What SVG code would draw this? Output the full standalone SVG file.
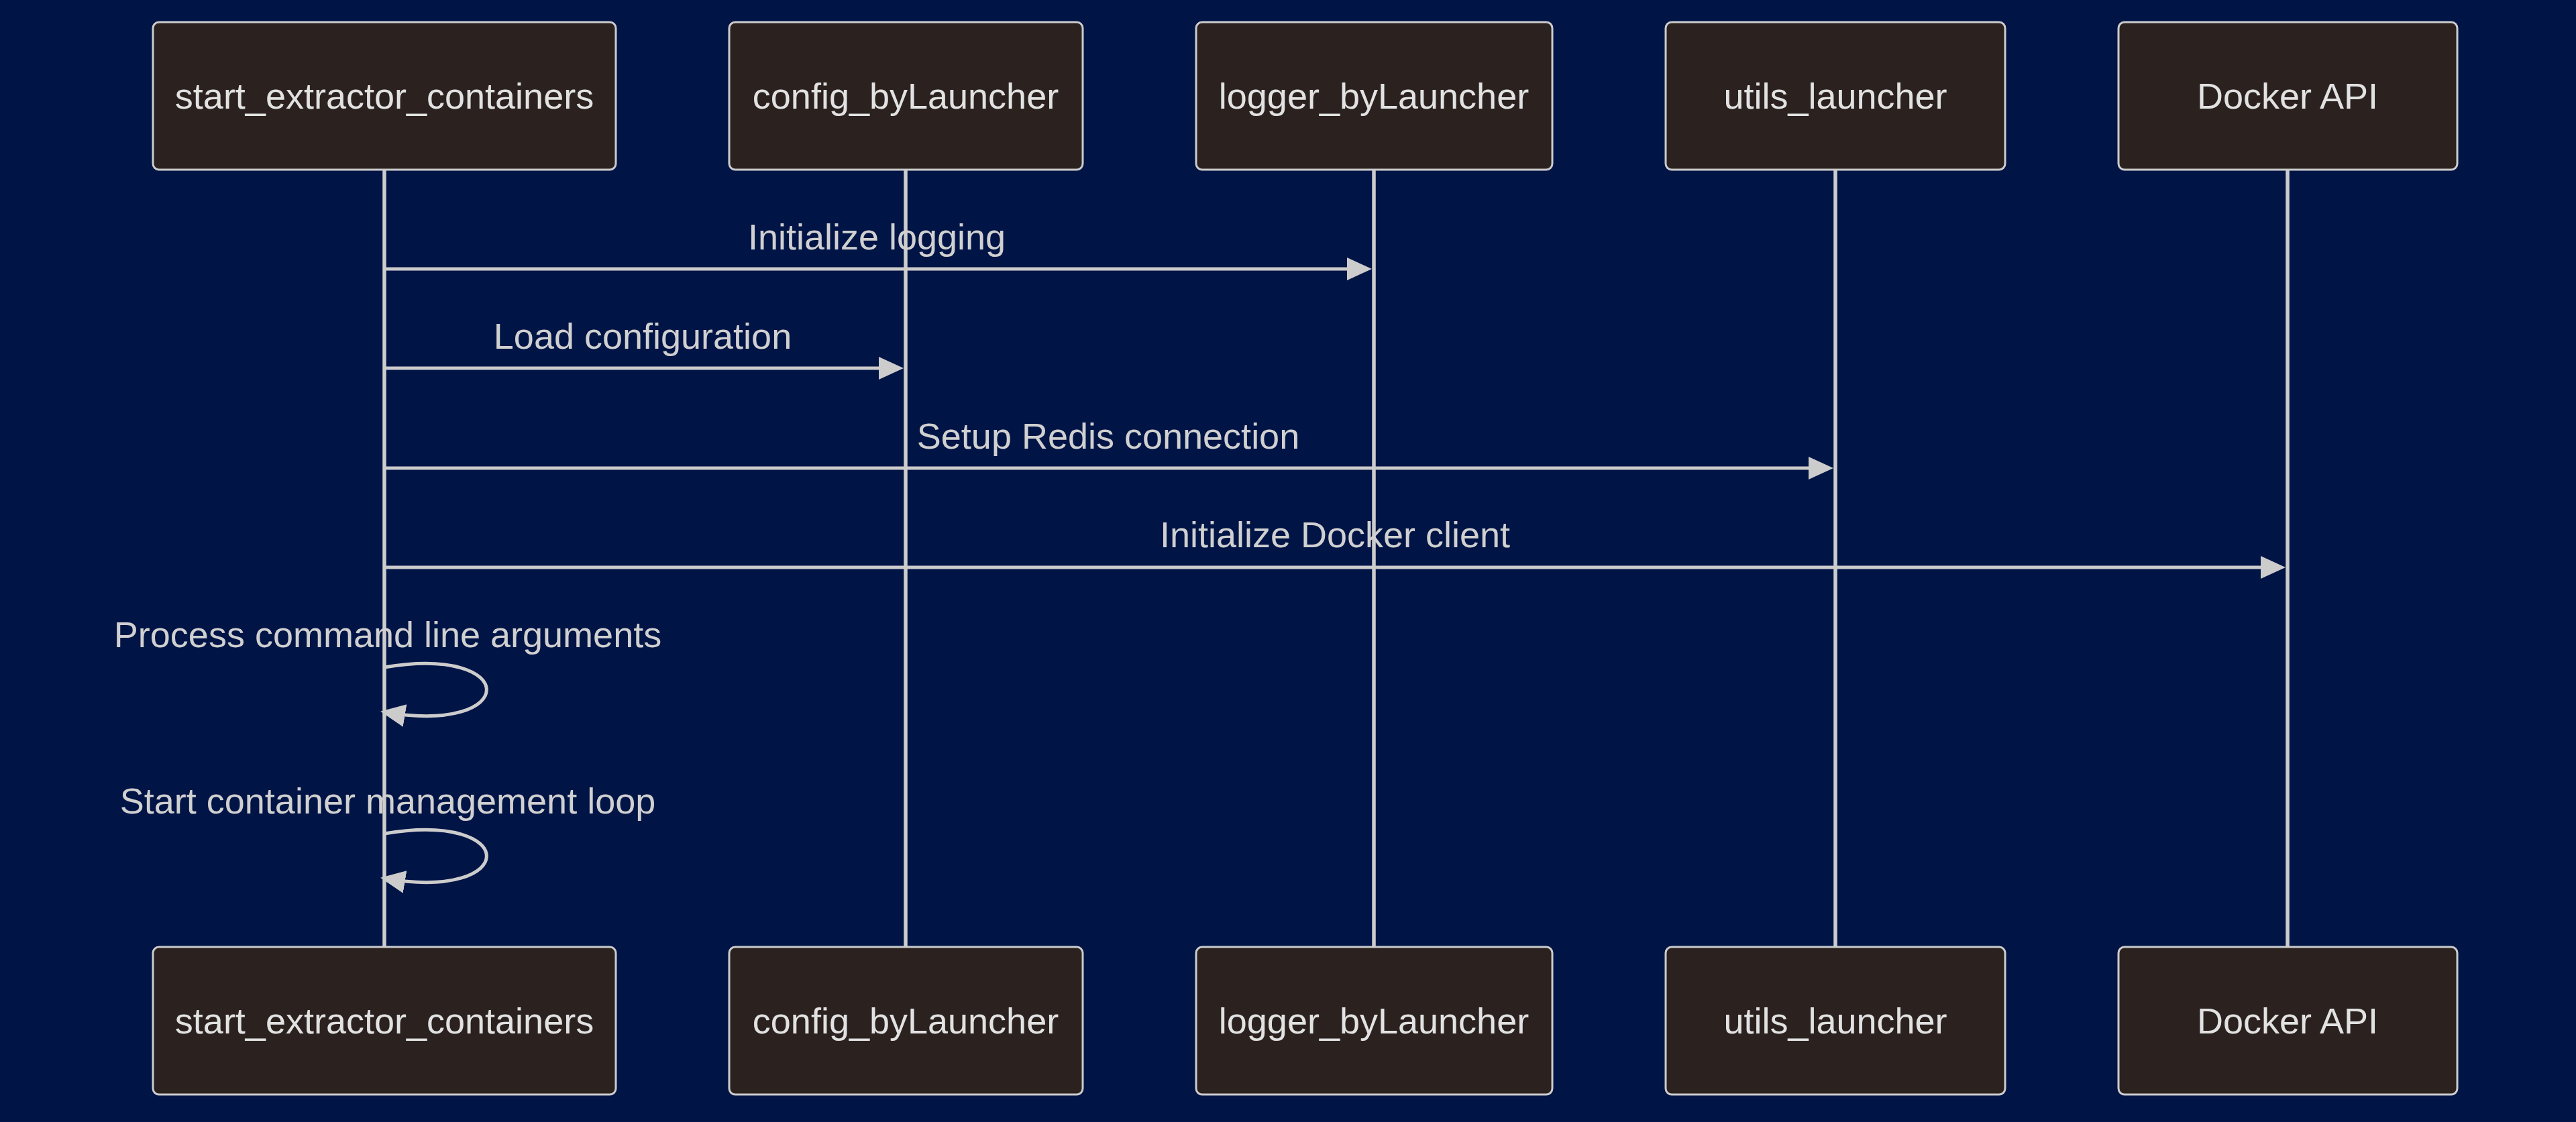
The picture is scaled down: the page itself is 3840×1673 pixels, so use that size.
<svg xmlns="http://www.w3.org/2000/svg" width="3840" height="1673" viewBox="0 0 3840 1673">
<defs>
<style>
.actor rect{fill:#2b2220;stroke:#cccccc;stroke-width:3}
.actor text{fill:#e2e2e2;font-family:"Liberation Sans",Arial,sans-serif;font-size:54px;text-anchor:middle}
.life{stroke:#cccccc;stroke-width:5.5}
.msg{stroke:#cccccc;stroke-width:5;fill:none;marker-end:url(#arrow)}
.mtext{fill:#d0d0d0;font-family:"Liberation Sans",Arial,sans-serif;font-size:54px;text-anchor:middle}
</style>
<marker id="arrow" markerUnits="userSpaceOnUse" markerWidth="40" markerHeight="40" refX="30" refY="17" orient="auto">
<path d="M0,0 L37,17 L0,34 z" fill="#cccccc"/>
</marker>
</defs>
<rect width="3840" height="1673" fill="#001446"/>
<g id="lifelines">
<line class="life" x1="573" y1="253" x2="573" y2="1412"/>
<line class="life" x1="1350" y1="253" x2="1350" y2="1412"/>
<line class="life" x1="2048" y1="253" x2="2048" y2="1412"/>
<line class="life" x1="2736" y1="253" x2="2736" y2="1412"/>
<line class="life" x1="3410" y1="253" x2="3410" y2="1412"/>
</g>
<g id="actor-start-top" class="actor"><rect x="228" y="33" width="690" height="220" rx="9"/><text x="573" y="162">start_extractor_containers</text></g>
<g id="actor-config-top" class="actor"><rect x="1087" y="33" width="527" height="220" rx="9"/><text x="1350" y="162">config_byLauncher</text></g>
<g id="actor-logger-top" class="actor"><rect x="1783" y="33" width="531" height="220" rx="9"/><text x="2048" y="162">logger_byLauncher</text></g>
<g id="actor-utils-top" class="actor"><rect x="2483" y="33" width="506" height="220" rx="9"/><text x="2736" y="162">utils_launcher</text></g>
<g id="actor-docker-top" class="actor"><rect x="3158" y="33" width="505" height="220" rx="9"/><text x="3410" y="162">Docker API</text></g>
<g id="actor-start-bottom" class="actor"><rect x="228" y="1412" width="690" height="220" rx="9"/><text x="573" y="1541">start_extractor_containers</text></g>
<g id="actor-config-bottom" class="actor"><rect x="1087" y="1412" width="527" height="220" rx="9"/><text x="1350" y="1541">config_byLauncher</text></g>
<g id="actor-logger-bottom" class="actor"><rect x="1783" y="1412" width="531" height="220" rx="9"/><text x="2048" y="1541">logger_byLauncher</text></g>
<g id="actor-utils-bottom" class="actor"><rect x="2483" y="1412" width="506" height="220" rx="9"/><text x="2736" y="1541">utils_launcher</text></g>
<g id="actor-docker-bottom" class="actor"><rect x="3158" y="1412" width="505" height="220" rx="9"/><text x="3410" y="1541">Docker API</text></g>
<g id="connectors">
<text class="mtext" x="1307" y="372">Initialize logging</text>
<path class="msg" d="M573,401 L2038,401"/>
<text class="mtext" x="958" y="520">Load configuration</text>
<path class="msg" d="M573,549 L1340,549"/>
<text class="mtext" x="1652" y="669">Setup Redis connection</text>
<path class="msg" d="M573,698 L2726,698"/>
<text class="mtext" x="1990" y="816">Initialize Docker client</text>
<path class="msg" d="M573,846 L3400,846"/>
<text class="mtext" x="578" y="965">Process command line arguments</text>
<path class="msg" d="M573,995 C776,961 776,1096 574,1062"/>
<text class="mtext" x="578" y="1213">Start container management loop</text>
<path class="msg" d="M573,1243 C776,1209 776,1344 574,1310"/>
</g>
</svg>
